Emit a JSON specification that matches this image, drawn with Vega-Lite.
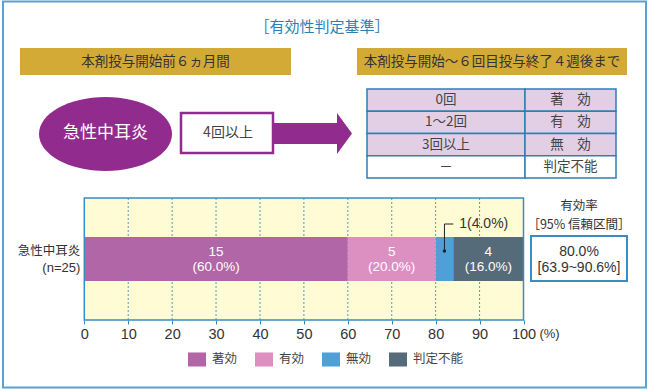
{
  "$schema": "https://vega.github.io/schema/vega-lite/v6.json",
  "width": 650,
  "height": 390,
  "padding": 0,
  "autosize": {"type": "none"},
  "background": "#ffffff",
  "config": {"view": {"stroke": null}, "font": "Noto Sans CJK JP", "text": {"font": "Noto Sans CJK JP"}},
  "datasets": {
    "results": [
      {"judgement": "著効", "count": 15, "pct": 60.0, "order": 1},
      {"judgement": "有効", "count": 5, "pct": 20.0, "order": 2},
      {"judgement": "無効", "count": 1, "pct": 4.0, "order": 3},
      {"judgement": "判定不能", "count": 4, "pct": 16.0, "order": 4}
    ],
    "summary": [{"group": "急性中耳炎", "n": 25, "rate": 80.0, "lo": 63.9, "hi": 90.6}],
    "criteria": [
      {"doses": "0回", "result": "著　効"},
      {"doses": "1～2回", "result": "有　効"},
      {"doses": "3回以上", "result": "無　効"},
      {"doses": "－", "result": "判定不能"}
    ],
    "ticks": [{"v": 10}, {"v": 20}, {"v": 30}, {"v": 40}, {"v": 50}, {"v": 60}, {"v": 70}, {"v": 80}, {"v": 90}]
  },
  "resolve": {"scale": {"x": "independent", "y": "independent"}},
  "layer": [
    {
      "layer": [
        {
          "data": {"values": [{}]},
          "mark": {"type": "rect", "fillOpacity": 0, "stroke": "#5aa2cf", "strokeWidth": 2},
          "encoding": {
            "x": {"datum": 3, "type": "quantitative", "scale": {"domain": [0, 650], "nice": false, "zero": false}, "axis": null},
            "x2": {"datum": 646},
            "y": {"datum": 1.5, "type": "quantitative", "scale": {"domain": [0, 390], "nice": false, "zero": false, "reverse": true}, "axis": null},
            "y2": {"datum": 387.5}
          }
        },
        {
          "data": {"values": [{}]},
          "mark": {"type": "text", "text": "［有効性判定基準］", "fontSize": 15, "color": "#2b7fb8", "align": "center", "baseline": "middle"},
          "encoding": {
            "x": {"datum": 322, "type": "quantitative", "axis": null},
            "y": {"datum": 27, "type": "quantitative", "axis": null}
          }
        },
        {
          "data": {"values": [{}]},
          "mark": {"type": "rect", "fill": "#d4aa36"},
          "encoding": {
            "x": {"datum": 20, "type": "quantitative", "axis": null},
            "x2": {"datum": 291},
            "y": {"datum": 48, "type": "quantitative", "axis": null},
            "y2": {"datum": 75}
          }
        },
        {
          "data": {"values": [{}]},
          "mark": {"type": "text", "text": "本剤投与開始前６ヵ月間", "fontSize": 13.5, "color": "#333333", "align": "center", "baseline": "middle"},
          "encoding": {
            "x": {"datum": 155.5, "type": "quantitative", "axis": null},
            "y": {"datum": 61.5, "type": "quantitative", "axis": null}
          }
        },
        {
          "data": {"values": [{}]},
          "mark": {"type": "rect", "fill": "#d4aa36"},
          "encoding": {
            "x": {"datum": 357, "type": "quantitative", "axis": null},
            "x2": {"datum": 627},
            "y": {"datum": 48, "type": "quantitative", "axis": null},
            "y2": {"datum": 75}
          }
        },
        {
          "data": {"values": [{}]},
          "mark": {"type": "text", "text": "本剤投与開始～６回目投与終了４週後まで", "fontSize": 13.5, "color": "#333333", "align": "center", "baseline": "middle"},
          "encoding": {
            "x": {"datum": 492, "type": "quantitative", "axis": null},
            "y": {"datum": 61.5, "type": "quantitative", "axis": null}
          }
        },
        {
          "data": {"values": [{}]},
          "mark": {"type": "point", "filled": true, "opacity": 1, "color": "#912b8d", "strokeWidth": 0, "size": 17689,
            "shape": "M-1,0C-1,-0.307,-0.5523,-0.556,0,-0.556C0.5523,-0.556,1,-0.307,1,0C1,0.307,0.5523,0.556,0,0.556C-0.5523,0.556,-1,0.307,-1,0Z"},
          "encoding": {
            "x": {"datum": 105.5, "type": "quantitative", "axis": null},
            "y": {"datum": 134, "type": "quantitative", "axis": null}
          }
        },
        {
          "data": {"values": [{}]},
          "mark": {"type": "text", "text": "急性中耳炎", "fontSize": 17, "color": "#ffffff", "align": "center", "baseline": "middle"},
          "encoding": {
            "x": {"datum": 105.5, "type": "quantitative", "axis": null},
            "y": {"datum": 133, "type": "quantitative", "axis": null}
          }
        },
        {
          "data": {"values": [{}]},
          "mark": {"type": "rect", "fill": "#912b8d"},
          "encoding": {
            "x": {"datum": 273, "type": "quantitative", "axis": null},
            "x2": {"datum": 338},
            "y": {"datum": 123, "type": "quantitative", "axis": null},
            "y2": {"datum": 144}
          }
        },
        {
          "data": {"values": [{}]},
          "mark": {"type": "point", "filled": true, "opacity": 1, "color": "#912b8d", "strokeWidth": 0, "size": 1681,
            "shape": "M-0.366,-1L0.366,0L-0.366,1Z"},
          "encoding": {
            "x": {"datum": 344.5, "type": "quantitative", "axis": null},
            "y": {"datum": 133.5, "type": "quantitative", "axis": null}
          }
        },
        {
          "data": {"values": [{}]},
          "mark": {"type": "rect", "fill": "#ffffff", "stroke": "#912b8d", "strokeWidth": 2.5},
          "encoding": {
            "x": {"datum": 181, "type": "quantitative", "axis": null},
            "x2": {"datum": 273},
            "y": {"datum": 113, "type": "quantitative", "axis": null},
            "y2": {"datum": 153}
          }
        },
        {
          "data": {"values": [{}]},
          "mark": {"type": "text", "text": "4回以上", "fontSize": 14, "color": "#444444", "align": "center", "baseline": "middle"},
          "encoding": {
            "x": {"datum": 228, "type": "quantitative", "axis": null},
            "y": {"datum": 133, "type": "quantitative", "axis": null}
          }
        },
        {
          "data": {"values": [{}]},
          "mark": {"type": "text", "text": "有効率", "fontSize": 12.5, "color": "#333333", "align": "center", "baseline": "middle"},
          "encoding": {
            "x": {"datum": 579, "type": "quantitative", "axis": null},
            "y": {"datum": 205.5, "type": "quantitative", "axis": null}
          }
        },
        {
          "data": {"values": [{}]},
          "mark": {"type": "text", "text": "［95% 信頼区間］", "fontSize": 12.5, "color": "#333333", "align": "center", "baseline": "middle"},
          "encoding": {
            "x": {"datum": 579, "type": "quantitative", "axis": null},
            "y": {"datum": 224.5, "type": "quantitative", "axis": null}
          }
        },
        {
          "data": {"values": [{}]},
          "mark": {"type": "rect", "fill": "#ffffff", "stroke": "#3a8cc4", "strokeWidth": 2},
          "encoding": {
            "x": {"datum": 531, "type": "quantitative", "axis": null},
            "x2": {"datum": 627},
            "y": {"datum": 236, "type": "quantitative", "axis": null},
            "y2": {"datum": 281}
          }
        },
        {
          "data": {"name": "summary"},
          "transform": [{"calculate": "format(datum.rate, '.1f') + '%'", "as": "rateText"}],
          "mark": {"type": "text", "font": "Liberation Sans", "fontSize": 14, "color": "#333333", "align": "center", "baseline": "middle"},
          "encoding": {
            "text": {"field": "rateText", "type": "nominal"},
            "x": {"datum": 579, "type": "quantitative", "axis": null},
            "y": {"datum": 251.5, "type": "quantitative", "axis": null}
          }
        },
        {
          "data": {"name": "summary"},
          "transform": [{"calculate": "'[' + format(datum.lo, '.1f') + '~' + format(datum.hi, '.1f') + '%]'", "as": "ciText"}],
          "mark": {"type": "text", "font": "Liberation Sans", "fontSize": 14, "color": "#333333", "align": "center", "baseline": "middle"},
          "encoding": {
            "text": {"field": "ciText", "type": "nominal"},
            "x": {"datum": 579, "type": "quantitative", "axis": null},
            "y": {"datum": 267.5, "type": "quantitative", "axis": null}
          }
        }
      ]
    },
    {
      "data": {"name": "criteria"},
      "layer": [
        {
          "mark": {"type": "rect", "stroke": "#2e7db5", "strokeWidth": 1.5},
          "encoding": {
            "x": {"datum": 367, "type": "quantitative", "scale": {"domain": [0, 650], "nice": false, "zero": false}, "axis": null},
            "x2": {"datum": 525},
            "y": {"field": "doses", "type": "nominal", "sort": null, "scale": {"domain": ["0回", "1～2回", "3回以上", "－"], "range": [89, 178], "paddingInner": 0, "paddingOuter": 0}, "axis": null},
            "fill": {"condition": {"test": "datum.result === '判定不能'", "value": "#ffffff"}, "value": "#e2cfe6"}
          }
        },
        {
          "mark": {"type": "rect", "stroke": "#2e7db5", "strokeWidth": 1.5},
          "encoding": {
            "x": {"datum": 525, "type": "quantitative", "axis": null},
            "x2": {"datum": 616},
            "y": {"field": "doses", "type": "nominal", "sort": null, "axis": null},
            "fill": {"condition": {"test": "datum.result === '判定不能'", "value": "#ffffff"}, "value": "#e2cfe6"}
          }
        },
        {
          "mark": {"type": "text", "fontSize": 13.5, "color": "#444444", "align": "center", "baseline": "middle"},
          "encoding": {
            "text": {"field": "doses", "type": "nominal"},
            "x": {"datum": 446, "type": "quantitative", "axis": null},
            "y": {"field": "doses", "type": "nominal", "sort": null, "axis": null}
          }
        },
        {
          "mark": {"type": "text", "fontSize": 13.5, "color": "#444444", "align": "center", "baseline": "middle"},
          "encoding": {
            "text": {"field": "result", "type": "nominal"},
            "x": {"datum": 570.5, "type": "quantitative", "axis": null},
            "y": {"field": "doses", "type": "nominal", "sort": null, "axis": null}
          }
        }
      ]
    },
    {
      "layer": [
        {
          "data": {"values": [{}]},
          "mark": {"type": "rect", "fill": "#fffbd5"},
          "encoding": {
            "x": {"datum": 0, "type": "quantitative", "scale": {"domain": [0, 100], "range": [84.3, 523.5], "nice": false, "zero": false}},
            "x2": {"datum": 100},
            "y": {"datum": 198, "type": "quantitative", "scale": {"domain": [0, 390], "nice": false, "zero": false, "reverse": true}, "axis": null},
            "y2": {"datum": 320}
          }
        },
        {
          "data": {"name": "ticks"},
          "mark": {"type": "rule", "stroke": "#4a9bd1", "strokeWidth": 1, "strokeDash": [2, 2]},
          "encoding": {
            "x": {"field": "v", "type": "quantitative"},
            "y": {"datum": 198, "type": "quantitative", "axis": null},
            "y2": {"datum": 320}
          }
        },
        {
          "data": {"name": "results"},
          "transform": [{"stack": "pct", "groupby": [], "sort": [{"field": "order", "order": "ascending"}], "as": ["x0", "x1"]}],
          "mark": {"type": "rect"},
          "encoding": {
            "x": {"field": "x0", "type": "quantitative", "axis": {
              "values": [0, 10, 20, 30, 40, 50, 60, 70, 80, 90, 100], "offset": -70, "domain": false, "grid": false,
              "ticks": true, "tickSize": 4, "tickColor": "#3a8cc4", "tickWidth": 1, "labelFontSize": 14.5, "labelColor": "#333333",
              "labelFont": "Liberation Sans", "labelPadding": 3, "labelFlush": false, "title": null}},
            "x2": {"field": "x1"},
            "y": {"datum": 237, "type": "quantitative", "axis": null},
            "y2": {"datum": 281},
            "color": {"field": "judgement", "type": "nominal",
              "scale": {"domain": ["著効", "有効", "無効", "判定不能"], "range": ["#b166a7", "#dc8fc1", "#4f9fd9", "#566b79"]},
              "legend": {"title": null, "orient": "none", "legendX": 188, "legendY": 350, "direction": "horizontal",
                "symbolType": "M-1,-0.78H1V0.78H-1Z", "symbolSize": 324, "symbolStrokeWidth": 0, "symbolOpacity": 1,
                "labelFontSize": 12.5, "labelColor": "#444444", "labelFont": "Noto Sans CJK JP", "labelOffset": 6,
                "columnPadding": 17, "padding": 0}}
          }
        },
        {
          "data": {"name": "results"},
          "transform": [
            {"stack": "pct", "groupby": [], "sort": [{"field": "order", "order": "ascending"}], "as": ["x0", "x1"]},
            {"calculate": "(datum.x0 + datum.x1) / 2", "as": "mid"},
            {"calculate": "datum.judgement === '無効' ? '' : '' + datum.count", "as": "countText"}
          ],
          "mark": {"type": "text", "font": "Liberation Sans", "fontSize": 13.5, "color": "#ffffff", "align": "center", "baseline": "middle"},
          "encoding": {
            "text": {"field": "countText", "type": "nominal"},
            "x": {"field": "mid", "type": "quantitative"},
            "y": {"datum": 251.5, "type": "quantitative", "axis": null}
          }
        },
        {
          "data": {"name": "results"},
          "transform": [
            {"stack": "pct", "groupby": [], "sort": [{"field": "order", "order": "ascending"}], "as": ["x0", "x1"]},
            {"calculate": "(datum.x0 + datum.x1) / 2", "as": "mid"},
            {"calculate": "datum.judgement === '無効' ? '' : '(' + format(datum.pct, '.1f') + '%)'", "as": "pctText"}
          ],
          "mark": {"type": "text", "font": "Liberation Sans", "fontSize": 13.5, "color": "#ffffff", "align": "center", "baseline": "middle"},
          "encoding": {
            "text": {"field": "pctText", "type": "nominal"},
            "x": {"field": "mid", "type": "quantitative"},
            "y": {"datum": 267, "type": "quantitative", "axis": null}
          }
        },
        {
          "data": {"values": [{}]},
          "mark": {"type": "rule", "stroke": "#222222", "strokeWidth": 1},
          "encoding": {
            "x": {"datum": 82, "type": "quantitative"},
            "x2": {"datum": 84},
            "y": {"datum": 224, "type": "quantitative", "axis": null}
          }
        },
        {
          "data": {"values": [{}]},
          "mark": {"type": "rule", "stroke": "#222222", "strokeWidth": 1},
          "encoding": {
            "x": {"datum": 82, "type": "quantitative"},
            "y": {"datum": 224, "type": "quantitative", "axis": null},
            "y2": {"datum": 251}
          }
        },
        {
          "data": {"values": [{}]},
          "mark": {"type": "point", "filled": true, "opacity": 1, "color": "#222222", "size": 12},
          "encoding": {
            "x": {"datum": 82, "type": "quantitative"},
            "y": {"datum": 251, "type": "quantitative", "axis": null}
          }
        },
        {
          "data": {"name": "results"},
          "transform": [
            {"filter": "datum.judgement === '無効'"},
            {"calculate": "datum.count + '(' + format(datum.pct, '.1f') + '%)'", "as": "note"}
          ],
          "mark": {"type": "text", "font": "Liberation Sans", "fontSize": 14, "color": "#333333", "align": "left", "baseline": "middle", "dx": 6},
          "encoding": {
            "text": {"field": "note", "type": "nominal"},
            "x": {"datum": 84, "type": "quantitative"},
            "y": {"datum": 224, "type": "quantitative", "axis": null}
          }
        },
        {
          "data": {"values": [{}]},
          "mark": {"type": "rect", "fillOpacity": 0, "stroke": "#3a8cc4", "strokeWidth": 1.5},
          "encoding": {
            "x": {"datum": 0, "type": "quantitative"},
            "x2": {"datum": 100},
            "y": {"datum": 198, "type": "quantitative", "axis": null},
            "y2": {"datum": 320}
          }
        },
        {
          "data": {"name": "summary"},
          "mark": {"type": "text", "fontSize": 12.5, "color": "#333333", "align": "right", "baseline": "middle", "dx": -4},
          "encoding": {
            "text": {"field": "group", "type": "nominal"},
            "x": {"datum": 0, "type": "quantitative"},
            "y": {"datum": 250.5, "type": "quantitative", "axis": null}
          }
        },
        {
          "data": {"name": "summary"},
          "transform": [{"calculate": "'(n=' + datum.n + ')'", "as": "nText"}],
          "mark": {"type": "text", "font": "Liberation Sans", "fontSize": 13, "color": "#333333", "align": "right", "baseline": "middle", "dx": -4},
          "encoding": {
            "text": {"field": "nText", "type": "nominal"},
            "x": {"datum": 0, "type": "quantitative"},
            "y": {"datum": 267.5, "type": "quantitative", "axis": null}
          }
        },
        {
          "data": {"values": [{}]},
          "mark": {"type": "text", "text": "(%)", "font": "Liberation Sans", "fontSize": 13, "color": "#333333", "align": "center", "baseline": "middle", "dx": 26},
          "encoding": {
            "x": {"datum": 100, "type": "quantitative"},
            "y": {"datum": 334, "type": "quantitative", "axis": null}
          }
        }
      ]
    }
  ]
}
